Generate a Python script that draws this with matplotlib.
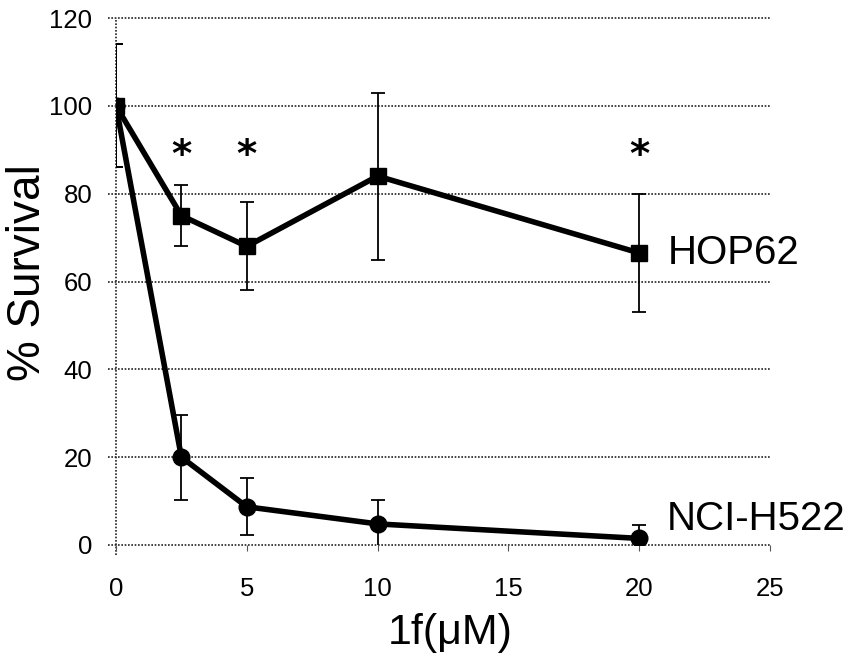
import numpy as np
import matplotlib
matplotlib.use("Agg")
import matplotlib.pyplot as plt

plt.rcParams["font.family"] = ["Liberation Sans", "DejaVu Sans"]

conc = [0, 2.5, 5, 10, 20]
hop62 = [100, 75, 68, 84, 66.5]
hop62_err = [14, 7, 10, 19, 13.5]
h522 = [100, 20, 8.7, 4.8, 1.5]
h522_err = [14, 9.7, 6.5, 5.5, 3]
star_x = [2.5, 5, 20]
star_y = 88.5
yticks = [0, 20, 40, 60, 80, 100, 120]
xticks = [0, 5, 10, 15, 20, 25]

fig = plt.figure(figsize=(8.5, 6.64), dpi=100)
ax = fig.add_axes([116/850, 1-545/664, (770-116)/850, (545-18)/664])
ax.set_xlim(0, 25)
ax.set_ylim(0, 120)
for s in ax.spines.values():
    s.set_visible(False)

# excel style dotted grid and left axis
for y in yticks:
    ax.plot([-0.3, 25], [y, y], ls=(0, (1, 1)), lw=1.2, color="#222222", clip_on=False, zorder=1)
ax.plot([0, 0], [-2.3, 120], ls=(0, (1, 1)), lw=1.2, color="#222222", clip_on=False, zorder=1)

ax.errorbar(conc, hop62, yerr=hop62_err, color="black", lw=4, marker="s", ms=12,
            ecolor="black", elinewidth=1.3, capsize=5, capthick=1.3, zorder=3)
ax.errorbar(conc, h522, yerr=h522_err, color="black", lw=4, marker="o", ms=12,
            ecolor="black", elinewidth=1.3, capsize=5, capthick=1.3, zorder=3)

for x in star_x:
    ax.text(x, star_y, "*", fontsize=28, fontweight="bold", ha="center", va="center",
            family=["DejaVu Sans"])

ax.text(21.1, hop62[-1], "HOP62", fontsize=29, ha="left", va="center", zorder=4)
ax.text(21.05, 5.9, "NCI-H522", fontsize=29, ha="left", va="center", zorder=4,
        bbox=dict(facecolor="white", edgecolor="none", pad=1))

ax.set_xticks(xticks)
ax.set_yticks(yticks)
ax.tick_params(axis="x", length=4, width=0.8, color="#555555", pad=19, labelsize=18.5)
ax.tick_params(axis="y", length=0, pad=17, labelsize=18.5)
ax.set_xlabel("1f(\u03bcM)", fontsize=31, va="center")
ax.xaxis.set_label_coords((450-116)/654, -(633-545)/527)
ax.set_ylabel("% Survival", fontsize=33, va="center")
ax.yaxis.set_label_coords((28-116)/654, (545-273)/527)

fig.savefig("out.png", dpi=100)
